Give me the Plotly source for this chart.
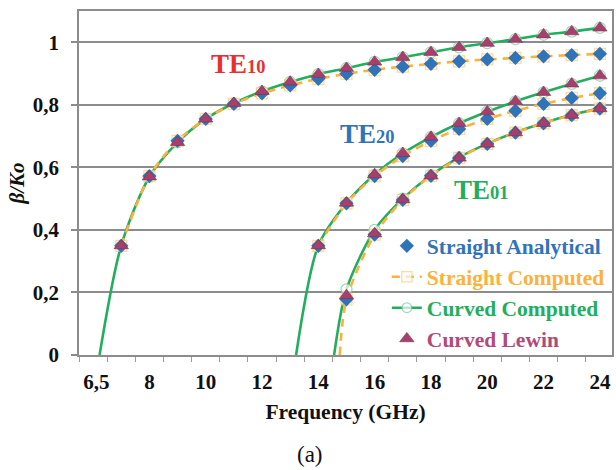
import plotly.graph_objects as go

# ---- data -------------------------------------------------------------
# frequency points (GHz) for each mode
freq_te10 = [7, 8, 9, 10, 11, 12, 13, 14, 15, 16, 17, 18, 19, 20, 21, 22, 23, 24]
freq_te20 = [14, 15, 16, 17, 18, 19, 20, 21, 22, 23, 24]
freq_te01 = [15, 16, 17, 18, 19, 20, 21, 22, 23, 24]

# cutoff frequencies where the computed curves reach zero
cutoff_curved = {"TE10": 6.23, "TE20": 13.21, "TE01": 14.56}
cutoff_straight_te01 = 14.76

# straight guide (analytical and computed coincide)
straight_te10 = [0.349, 0.572, 0.685, 0.755, 0.803, 0.837, 0.862, 0.883, 0.899,
                 0.912, 0.922, 0.931, 0.939, 0.945, 0.950, 0.955, 0.959, 0.963]
straight_te20 = [0.349, 0.485, 0.572, 0.636, 0.685, 0.723, 0.755, 0.781, 0.803,
                 0.822, 0.837]
straight_te01 = [0.178, 0.385, 0.496, 0.573, 0.630, 0.675, 0.711, 0.741, 0.767,
                 0.788]

# curved guide, computed
curved_te10 = [0.350, 0.570, 0.680, 0.755, 0.805, 0.843, 0.873, 0.898, 0.917,
               0.937, 0.952, 0.968, 0.984, 0.997, 1.010, 1.024, 1.034, 1.046]
curved_te20 = [0.350, 0.486, 0.577, 0.645, 0.697, 0.741, 0.778, 0.811, 0.840,
               0.867, 0.893]
curved_te01 = [0.210, 0.400, 0.500, 0.575, 0.632, 0.676, 0.712, 0.742, 0.768,
               0.789]

# curved guide, Lewin
lewin_te10 = [0.350, 0.570, 0.680, 0.755, 0.805, 0.843, 0.873, 0.898, 0.917,
              0.937, 0.952, 0.968, 0.984, 0.997, 1.010, 1.024, 1.034, 1.046]
lewin_te20 = [0.350, 0.486, 0.577, 0.645, 0.697, 0.741, 0.778, 0.811, 0.840,
              0.867, 0.893]
lewin_te01 = [0.190, 0.388, 0.497, 0.573, 0.630, 0.675, 0.711, 0.741, 0.767,
              0.788]

x_tick_vals = [6.12, 8, 10, 12, 14, 16, 18, 20, 22, 24]
x_tick_text = ["6,5", "8", "10", "12", "14", "16", "18", "20", "22", "24"]
y_tick_vals = [0, 0.2, 0.4, 0.6, 0.8, 1.0]
y_tick_text = ["0", "0,2", "0,4", "0,6", "0,8", "1"]

# ---- styling ----------------------------------------------------------
BLUE = "#2F74B8"
ORANGE = "#FDB03A"
GREEN = "#22AE5E"
MAROON = "#A63F6C"
RED = "#E8302F"
GRID = "#8C8C8C"
SERIF = "Liberation Serif"


def join(parts):
    """Concatenate segments with None gaps between them."""
    out = []
    for i, p in enumerate(parts):
        if i:
            out.append(None)
        out.extend(p)
    return out


def sizes(parts, size, zero_first):
    out = []
    for i, (p, z) in enumerate(zip(parts, zero_first)):
        if i:
            out.append(0)
        seg = [size] * len(p)
        if z:
            seg[0] = 0
        out.extend(seg)
    return out


fig = go.Figure()

# Curved Computed: solid green with open circles, reaching zero at cutoff
cc_x = [[cutoff_curved["TE10"]] + freq_te10,
        [cutoff_curved["TE20"]] + freq_te20,
        [cutoff_curved["TE01"]] + freq_te01]
cc_y = [[0] + curved_te10, [0] + curved_te20, [0] + curved_te01]
fig.add_trace(go.Scatter(
    x=join(cc_x), y=join(cc_y), mode="lines+markers",
    name=f"<span style='color:{GREEN}'>Curved Computed</span>",
    line=dict(color=GREEN, width=2.6, shape="spline", smoothing=0.8),
    marker=dict(symbol="circle", size=sizes(cc_x, 11, [True, True, True]),
                color="white", line=dict(color="#7CCB9C", width=1.3)),
    legendrank=3, connectgaps=False,
))

# Straight Computed: dashed orange with open squares
sc_x = [freq_te10, freq_te20, [cutoff_straight_te01] + freq_te01]
sc_y = [straight_te10, straight_te20, [0] + straight_te01]
fig.add_trace(go.Scatter(
    x=join(sc_x), y=join(sc_y), mode="lines+markers",
    name=f"<span style='color:{ORANGE}'>Straight Computed</span>",
    line=dict(color=ORANGE, width=2.6, dash="8px,6px", shape="spline",
              smoothing=0.8),
    marker=dict(symbol="square", size=sizes(sc_x, 11, [False, False, True]),
                color="white", line=dict(color="#FFCB7A", width=1.3)),
    legendrank=2, connectgaps=False,
))

# Straight Analytical: blue diamonds
fig.add_trace(go.Scatter(
    x=freq_te10 + freq_te20 + freq_te01,
    y=straight_te10 + straight_te20 + straight_te01,
    mode="markers",
    name=f"<span style='color:{BLUE}'>Straight Analytical</span>",
    marker=dict(symbol="diamond", size=11, color=BLUE),
    legendrank=1,
))

# Curved Lewin: maroon triangles
fig.add_trace(go.Scatter(
    x=freq_te10 + freq_te20 + freq_te01,
    y=lewin_te10 + lewin_te20 + lewin_te01,
    mode="markers",
    name=f"<span style='color:#B14A78'>Curved Lewin</span>",
    marker=dict(symbol="triangle-up", size=12.5, color=MAROON,
                line=dict(color="#7E2F52", width=0.6)),
    legendrank=4,
))

# mode labels
mode_labels = [
    ("TE", "10", 11.18, 0.931, RED),
    ("TE", "20", 15.74, 0.707, BLUE),
    ("TE", "01", 19.81, 0.528, GREEN),
]
for main, sub, lx, ly, col in mode_labels:
    fig.add_annotation(
        x=lx, y=ly, xref="x", yref="y", showarrow=False,
        text=f"<b>{main}<span style='font-size:18.5px'>{sub}</span></b>",
        font=dict(family=SERIF, size=27, color=col),
    )

fig.add_annotation(
    x=0.4336, y=-0.288, xref="paper", yref="paper", showarrow=False,
    text="(a)", font=dict(family=SERIF, size=23, color="#111111"),
    xanchor="center", yanchor="middle",
)

tick_font = dict(family=SERIF, size=21, color="#111111", weight="bold")

fig.update_layout(
    width=616, height=470,
    margin=dict(l=79, r=2, t=11, b=115),
    paper_bgcolor="white", plot_bgcolor="white",
    showlegend=True,
    legend=dict(
        x=0.5776, y=0.377, xanchor="left", yanchor="top",
        bgcolor="rgba(0,0,0,0)", borderwidth=0,
        font=dict(family=SERIF, size=21.5, weight="bold"),
        itemwidth=30, tracegroupgap=0,
    ),
    xaxis=dict(
        range=[5.5, 24.43],
        tickmode="array", tickvals=x_tick_vals, ticktext=x_tick_text,
        ticks="", tickfont=tick_font, ticklabelstandoff=7,
        showgrid=False, zeroline=False,
        showline=True, linecolor=GRID, linewidth=1.5, mirror=True,
        minor=dict(tickmode="linear", tick0=5.5, dtick=1, ticks="outside",
                   ticklen=5, tickwidth=1, tickcolor="#9A9A9A",
                   showgrid=False),
        title=dict(text="<b>Frequency (GHz)</b>",
                   font=dict(family=SERIF, size=21.5, color="#111111"),
                   standoff=11),
    ),
    yaxis=dict(
        range=[0, 1.1],
        tickmode="array", tickvals=y_tick_vals, ticktext=y_tick_text,
        ticks="outside", ticklen=6, tickwidth=1.5, tickcolor=GRID,
        tickfont=tick_font, ticklabelstandoff=8,
        showgrid=True, gridcolor=GRID, gridwidth=1.8, zeroline=False,
        showline=True, linecolor=GRID, linewidth=1.5, mirror=True,
        title=dict(text="<b><i>β/Ko</i></b>",
                   font=dict(family=SERIF, size=21, color="#111111"),
                   standoff=2),
    ),
)

fig.write_html("out.html")
